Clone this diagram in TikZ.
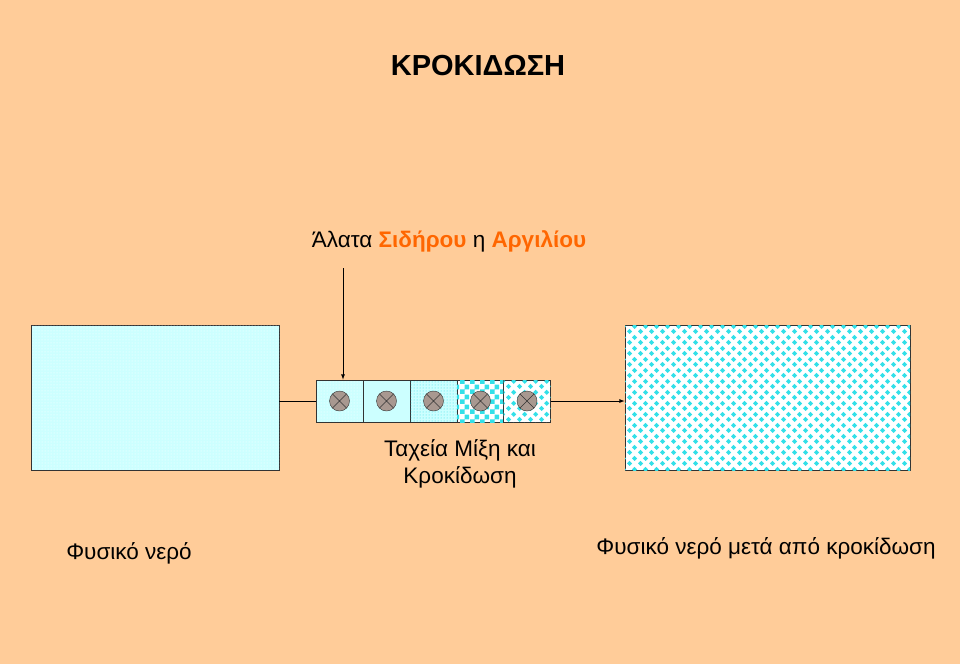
\documentclass[tikz,border=0pt]{standalone}
\usepackage{fontspec}
\setmainfont{Liberation Sans}
\usetikzlibrary{patterns}
\pgfdeclarepatternformonly{diam}{\pgfqpoint{0pt}{0pt}}{\pgfqpoint{11pt}{11pt}}{\pgfqpoint{11pt}{11pt}}{
  \pgfpathmoveto{\pgfqpoint{2.75pt}{0pt}}\pgfpathlineto{\pgfqpoint{5.5pt}{2.75pt}}\pgfpathlineto{\pgfqpoint{2.75pt}{5.5pt}}\pgfpathlineto{\pgfqpoint{0pt}{2.75pt}}\pgfpathclose
  \pgfpathmoveto{\pgfqpoint{8.25pt}{5.5pt}}\pgfpathlineto{\pgfqpoint{11pt}{8.25pt}}\pgfpathlineto{\pgfqpoint{8.25pt}{11pt}}\pgfpathlineto{\pgfqpoint{5.5pt}{8.25pt}}\pgfpathclose
  \pgfusepath{fill}}
\pgfdeclarepatternformonly{checks}{\pgfqpoint{0pt}{0pt}}{\pgfqpoint{10pt}{10pt}}{\pgfqpoint{10pt}{10pt}}{
  \pgfpathrectangle{\pgfqpoint{0pt}{0pt}}{\pgfqpoint{5pt}{5pt}}
  \pgfpathrectangle{\pgfqpoint{5pt}{5pt}}{\pgfqpoint{5pt}{5pt}}
  \pgfusepath{fill}}
\definecolor{bg}{HTML}{FFCC99}
\definecolor{lc}{HTML}{CCFFFF}
\definecolor{cy}{HTML}{33E0E8}
\definecolor{org}{HTML}{FF6600}
\definecolor{mx}{HTML}{A89890}
\tikzset{
  tank/.style={draw=black!80, line width=0.8pt, minimum width=#1, minimum height=145pt, inner sep=0pt},
  cell/.style={draw=black!80, line width=0.8pt, minimum width=47pt, minimum height=42pt, inner sep=0pt},
  mixer/.style={circle, draw=black!80, fill=mx, minimum size=20pt, inner sep=0pt, path picture={
    \draw[black!80] (path picture bounding box.south west)--(path picture bounding box.north east)
      (path picture bounding box.north west)--(path picture bounding box.south east);}},
  lbl/.style={font=\fontsize{22.5}{27}\selectfont},
  conn/.style={line width=0.8pt, -latex}
}
\begin{document}
\begin{tikzpicture}[x=1pt,y=-1pt]
\fill[bg] (0,0) rectangle (960,664);
\useasboundingbox (0,0) rectangle (960,664);
\node[font=\fontsize{29}{34}\selectfont\bfseries] (title) at (478,66) {ΚΡΟΚΙΔΩΣΗ};
\node[lbl, anchor=base] (salts) at (449,247) {Άλατα \textcolor{org}{\bfseries Σιδήρου} η \textcolor{org}{\bfseries Αργιλίου}};
\coordinate (src) at (343,268);
\node[tank=248pt, fill=lc, postaction={pattern=dots, pattern color=white}] (raw) at (155,397.5) {};
\node[tank=285pt, fill=white, postaction={pattern=diam, pattern color=cy}] (out) at (767.5,397.5) {};
\node[cell, fill=lc, postaction={pattern=dots, pattern color=white}] (c1) at (339.5,401) {};
\node[cell, fill=lc] (c2) at (386.5,401) {};
\node[cell, fill=lc, postaction={pattern=dots, pattern color=cy}] (c3) at (433.5,401) {};
\node[cell, fill=white, postaction={pattern=checks, pattern color=cy}] (c4) at (480.5,401) {};
\node[cell, fill=white, postaction={pattern=diam, pattern color=cy}] (c5) at (527,401) {};
\foreach \i in {1,...,5} \node[mixer] (m\i) at (c\i) {};
\draw[line width=0.8pt] (raw.east |- c1) -- (c1.west);
\draw[conn] (c5.east) -- (out.west |- c5);
\draw[conn] (src) -- (src |- c1.north);
\node[lbl, align=center] (mixlbl) at (460,464) {Ταχεία Μίξη και\\Κροκίδωση};
\node[lbl] (rawlbl) at (129,553) {Φυσικό νερό};
\node[lbl] (outlbl) at (766,548) {Φυσικό νερό μετά από κροκίδωση};
\end{tikzpicture}
\end{document}
